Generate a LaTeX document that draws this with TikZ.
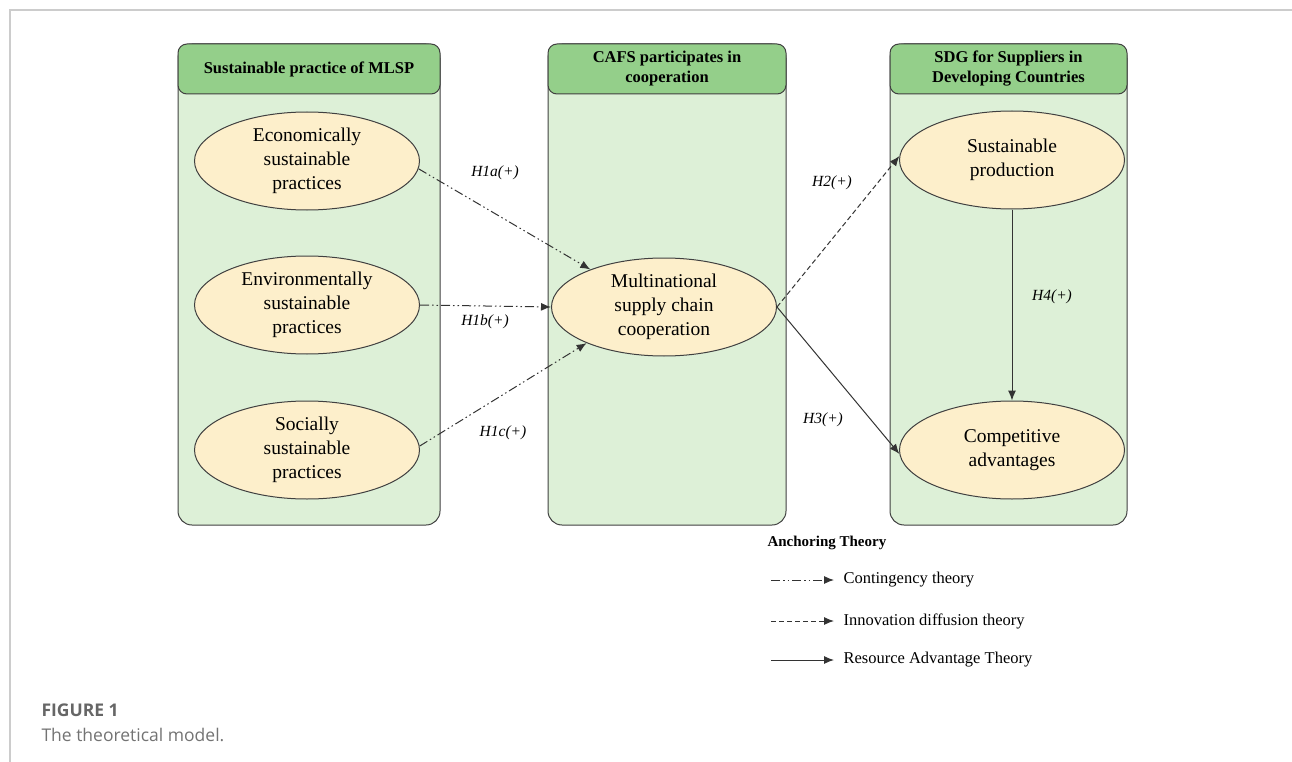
\documentclass[tikz,border=0pt]{standalone}
\usepackage{fontspec}
\setmainfont{Liberation Serif}
\newfontfamily\capfont{Open Sans}
\usetikzlibrary{shapes.geometric,arrows.meta}
\definecolor{hdrgreen}{HTML}{94CF8A}
\definecolor{bodygreen}{HTML}{DDF0D7}
\definecolor{ellfill}{HTML}{FDEFCB}
\definecolor{edgegray}{HTML}{404040}
\definecolor{framegray}{HTML}{CCCCCC}
\tikzset{
  panelbody/.style={draw=edgegray, line width=1pt, fill=bodygreen, rounded corners=14pt},
  panelhead/.style={draw=edgegray, line width=1pt, fill=hdrgreen, rounded corners=9pt},
  headtext/.style={font=\fontsize{16.5}{20}\selectfont\bfseries, align=center, text=black},
  ell/.style={ellipse, draw=edgegray, line width=1pt, fill=ellfill, minimum width=225pt, minimum height=98pt, inner sep=0pt, align=center, font=\fontsize{19.5}{24}\selectfont},
  hyp/.style={font=\fontsize{15.5}{18}\selectfont\itshape},
  arr/.style={-{Latex[length=10pt,width=8pt]}, line width=1pt, draw=black!80},
  contin/.style={arr, dash pattern=on 9pt off 3pt on 1.5pt off 3pt on 1.5pt off 3pt},
  innov/.style={arr, dash pattern=on 5pt off 3pt},
  legtext/.style={anchor=west, font=\fontsize{16.5}{19}\selectfont},
}
\begin{document}
\begin{tikzpicture}[x=1pt,y=-1pt]
\useasboundingbox (0,0) rectangle (1292,762);
% frame
\draw[framegray, line width=2pt] (10,762) -- (10,10) -- (1292,10);
% panels
\foreach \xa/\xb in {178/440, 548/786, 890/1127}{
  \path[panelbody] (\xa,44) rectangle (\xb,525);
  \path[panelhead] (\xa,44) rectangle (\xb,94);
}
\node[headtext] (h1) at (309,69) {Sustainable practice of MLSP};
\node[headtext] (h2) at (667,69) {CAFS participates in\\cooperation};
\node[headtext] (h3) at (1008.5,69) {SDG for Suppliers in\\Developing Countries};
% ellipses
\node[ell] (econ) at (307,161) {Economically\\sustainable\\practices};
\node[ell] (env) at (307,305) {Environmentally\\sustainable\\practices};
\node[ell] (soc) at (307,450) {Socially\\sustainable\\practices};
\node[ell] (msc) at (664,307) {Multinational\\supply chain\\cooperation};
\node[ell] (sp) at (1012,160) {Sustainable\\production};
\node[ell] (ca) at (1012,450) {Competitive\\advantages};
% connectors
\draw[contin] (econ.-4) -- (msc.153);
\draw[contin] (env.east) -- (msc.west);
\draw[contin] (soc.2) -- (msc.205);
\draw[innov] (msc.east) -- (sp.178);
\draw[arr] (msc.east) -- (ca.182);
\draw[arr] (sp.south) -- (ca.north);
% labels
\node[hyp] (l1a) at (495,173) {H1a(+)};
\node[hyp] (l1b) at (485,322) {H1b(+)};
\node[hyp] (l1c) at (503,433) {H1c(+)};
\node[hyp] (l2) at (832,183) {H2(+)};
\node[hyp] (l3) at (823,420) {H3(+)};
\node[hyp] (l4) at (1052,297) {H4(+)};
% legend
\node[anchor=west, font=\fontsize{15}{17}\selectfont\bfseries] (lt) at (764,543) {Anchoring Theory};
\coordinate (c1a) at (771,580); \coordinate (c1b) at (834,580);
\coordinate (c2a) at (771,621); \coordinate (c2b) at (834,621);
\coordinate (c3a) at (771,660); \coordinate (c3b) at (834,660);
\draw[contin] (c1a) -- (c1b);
\draw[innov] (c2a) -- (c2b);
\draw[arr] (c3a) -- (c3b);
\node[legtext] (t1) at (840,580) {Contingency theory};
\node[legtext] (t2) at (840,621) {Innovation diffusion theory};
\node[legtext] (t3) at (840,660) {Resource Advantage Theory};
% caption
\node[anchor=west, text=black!60, font=\capfont\fontsize{17.5}{20}\selectfont\bfseries] (fig) at (38,710) {FIGURE 1};
\node[anchor=west, text=black!55, font=\capfont\fontsize{17.5}{20}\selectfont] (cap) at (38,735) {The theoretical model.};
\end{tikzpicture}
\end{document}
